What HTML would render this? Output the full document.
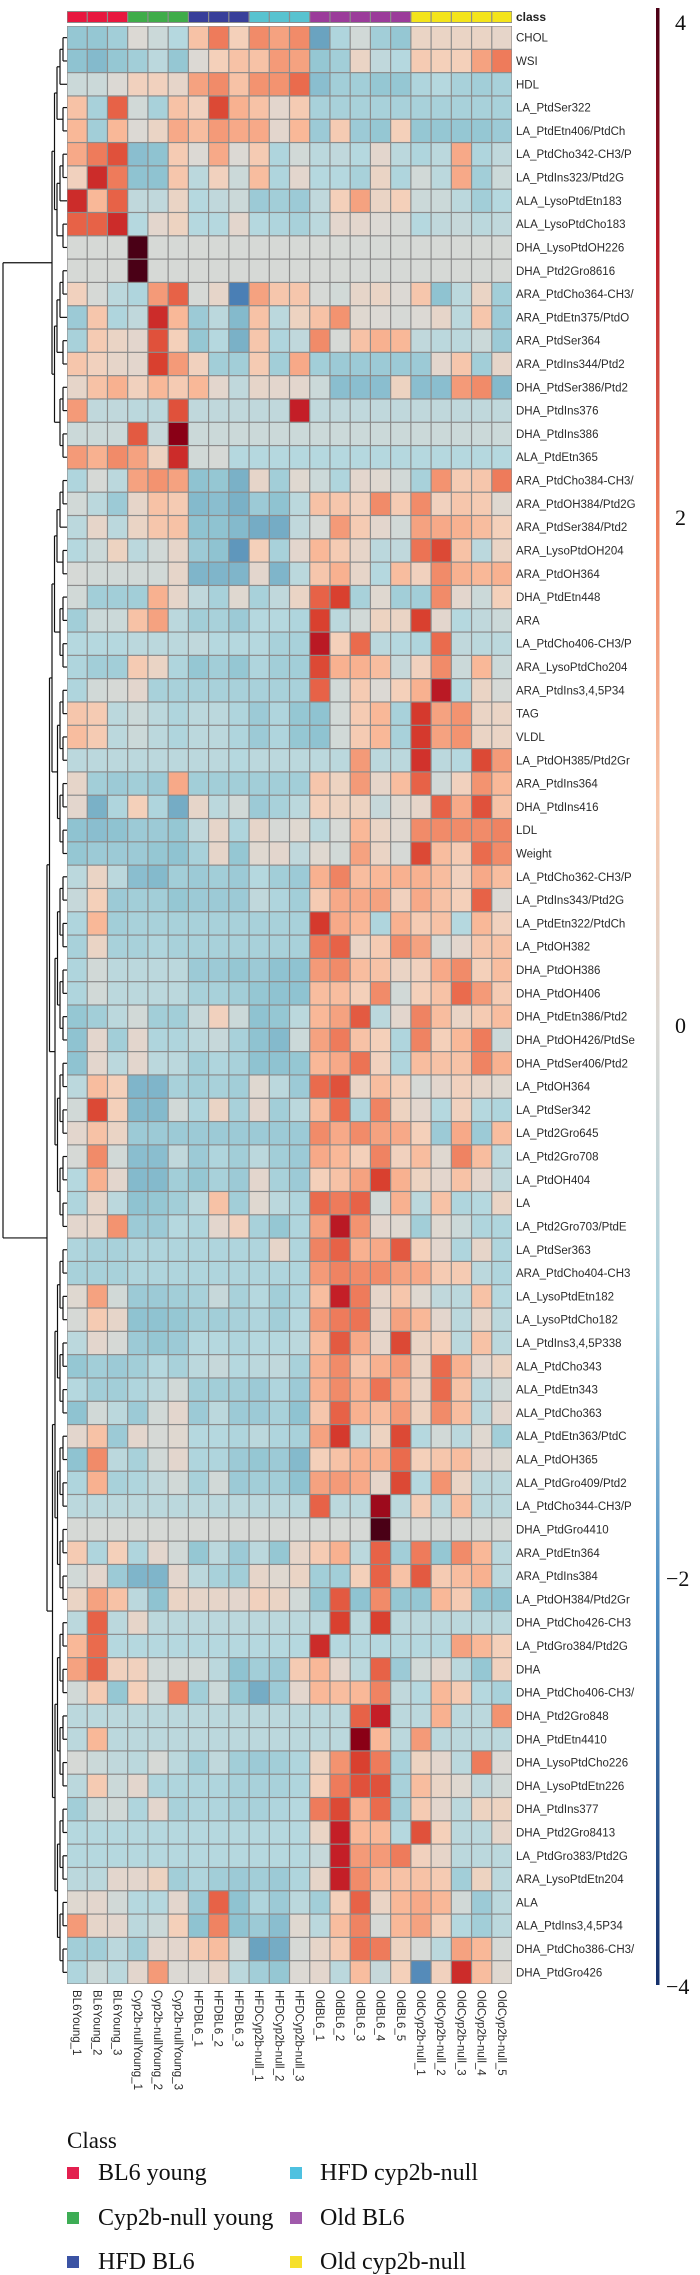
<!DOCTYPE html>
<html><head><meta charset="utf-8"><style>
html,body{margin:0;padding:0;background:#fff;}
svg{display:block;}
</style></head><body>
<svg id="chart" width="700" height="2275" viewBox="0 0 700 2275" xmlns="http://www.w3.org/2000/svg">
<defs>
<linearGradient id="cbar" x1="0" y1="0" x2="0" y2="1">
<stop offset="0" stop-color="#4a0016"/>
<stop offset="0.12" stop-color="#b81c28"/>
<stop offset="0.26" stop-color="#ef7f5c"/>
<stop offset="0.40" stop-color="#f8c6aa"/>
<stop offset="0.515" stop-color="#dcd9d4"/>
<stop offset="0.66" stop-color="#a9d1de"/>
<stop offset="0.80" stop-color="#4f8fc4"/>
<stop offset="1" stop-color="#15306b"/>
</linearGradient>
</defs>
<g id="dendro"></g>
<g id="classbar"></g>
<g id="cells"></g>
<g id="rowlabels"></g>
<g id="collabels"></g>
<g>
<rect x="656" y="8" width="3.5" height="1977" fill="url(#cbar)"/>
<g font-family="Liberation Serif, serif" font-size="22" fill="#111">
<text x="675" y="30">4</text>
<text x="675" y="525">2</text>
<text x="675" y="1033">0</text>
<text x="666" y="1586">−2</text>
<text x="666" y="1994">−4</text>
</g>
</g>
<g font-family="Liberation Serif, serif" fill="#111">
<text x="67" y="2148" font-size="23">Class</text>
<g font-size="24">
<rect x="67" y="2167" width="12" height="12" fill="#e3204f"/>
<text x="98" y="2180">BL6 young</text>
<rect x="67" y="2212" width="12" height="12" fill="#3dad55"/>
<text x="98" y="2225">Cyp2b-null young</text>
<rect x="67" y="2256" width="12" height="12" fill="#3b53a4"/>
<text x="98" y="2269">HFD BL6</text>
<rect x="290" y="2167" width="12" height="12" fill="#4ec1e0"/>
<text x="320" y="2180">HFD cyp2b-null</text>
<rect x="290" y="2212" width="12" height="12" fill="#a05aab"/>
<text x="320" y="2225">Old BL6</text>
<rect x="290" y="2256" width="12" height="12" fill="#f6e02a"/>
<text x="320" y="2269">Old cyp2b-null</text>
</g>
</g>
</svg>
<script>
const colLabels = ["BL6Young_1","BL6Young_2","BL6Young_3","Cyp2b-nullYoung_1","Cyp2b-nullYoung_2","Cyp2b-nullYoung_3","HFDBL6_1","HFDBL6_2","HFDBL6_3","HFDCyp2b-null_1","HFDCyp2b-null_2","HFDCyp2b-null_3","OldBL6_1","OldBL6_2","OldBL6_3","OldBL6_4","OldBL6_5","OldCyp2b-null_1","OldCyp2b-null_2","OldCyp2b-null_3","OldCyp2b-null_4","OldCyp2b-null_5"];
const colClasses = ["bl6y","bl6y","bl6y","cypy","cypy","cypy","hfdb","hfdb","hfdb","hfdc","hfdc","hfdc","oldb","oldb","oldb","oldb","oldb","oldc","oldc","oldc","oldc","oldc"];
const classColors = {bl6y:"#e8173f",cypy:"#3fac49",hfdb:"#383f9a",hfdc:"#58c3d0",oldb:"#9b3c9a",oldc:"#f4e41b"};
const rowLabels = ["CHOL","WSI","HDL","LA_PtdSer322","LA_PtdEtn406/PtdCh","LA_PtdCho342-CH3/P","LA_PtdIns323/Ptd2G","ALA_LysoPtdEtn183","ALA_LysoPtdCho183","DHA_LysoPtdOH226","DHA_Ptd2Gro8616","ARA_PtdCho364-CH3/","ARA_PtdEtn375/PtdO","ARA_PtdSer364","ARA_PtdIns344/Ptd2","DHA_PtdSer386/Ptd2","DHA_PtdIns376","DHA_PtdIns386","ALA_PtdEtn365","ARA_PtdCho384-CH3/","ARA_PtdOH384/Ptd2G","ARA_PtdSer384/Ptd2","ARA_LysoPtdOH204","ARA_PtdOH364","DHA_PtdEtn448","ARA","LA_PtdCho406-CH3/P","ARA_LysoPtdCho204","ARA_PtdIns3,4,5P34","TAG","VLDL","LA_PtdOH385/Ptd2Gr","ARA_PtdIns364","DHA_PtdIns416","LDL","Weight","LA_PtdCho362-CH3/P","LA_PtdIns343/Ptd2G","LA_PtdEtn322/PtdCh","LA_PtdOH382","DHA_PtdOH386","DHA_PtdOH406","DHA_PtdEtn386/Ptd2","DHA_PtdOH426/PtdSe","DHA_PtdSer406/Ptd2","LA_PtdOH364","LA_PtdSer342","LA_Ptd2Gro645","LA_Ptd2Gro708","LA_PtdOH404","LA","LA_Ptd2Gro703/PtdE","LA_PtdSer363","ARA_PtdCho404-CH3","LA_LysoPtdEtn182","LA_LysoPtdCho182","LA_PtdIns3,4,5P338","ALA_PtdCho343","ALA_PtdEtn343","ALA_PtdCho363","ALA_PtdEtn363/PtdC","ALA_PtdOH365","ALA_PtdGro409/Ptd2","LA_PtdCho344-CH3/P","DHA_PtdGro4410","ARA_PtdEtn364","ARA_PtdIns384","LA_PtdOH384/Ptd2Gr","DHA_PtdCho426-CH3","LA_PtdGro384/Ptd2G","DHA","DHA_PtdCho406-CH3/","DHA_Ptd2Gro848","DHA_PtdEtn4410","DHA_LysoPtdCho226","DHA_LysoPtdEtn226","DHA_PtdIns377","DHA_Ptd2Gro8413","LA_PtdGro383/Ptd2G","ARA_LysoPtdEtn204","ALA","ALA_PtdIns3,4,5P34","DHA_PtdCho386-CH3/","DHA_PtdGro426"];
const values = [
[-1.2,-1.2,-1,0,-0.3,-0.7,1,2,0.7,1.8,1.5,1.8,-2,-0.8,-0.2,-1,-1.2,0.4,0.4,0.4,0.4,0.3],
[-1.3,-1.5,-1.2,-1,-0.6,-1.2,0,0.7,1,1,1.6,1.5,-1.2,-1,0.4,-0.5,-0.7,0.8,0.7,0.7,1.5,2],
[-0.3,-0.3,0,0.6,0.6,0.3,1.5,1.8,1,1.7,1.7,2.2,-1.4,-1,-1,-1.2,-1.2,-0.8,-0.7,-0.9,-1,-0.9],
[1,-0.9,2.3,-0.2,-0.9,1,0.6,2.6,1.3,1,0.2,0.8,-0.9,-0.9,-0.9,-0.9,-0.9,-0.9,-0.9,-0.9,-0.9,-0.9],
[1.2,-1,1.2,0,0.4,1.4,1.1,1.6,1.4,1.4,0.2,1.2,-1.1,0.8,-1.1,-1.2,0.7,-1.2,-1.2,-1.2,-1.2,-1.1],
[1.4,2,2.5,-1.4,-1.3,0.8,0,1.4,0,0.8,-0.8,-0.2,-0.6,-0.5,-0.7,0.2,-0.6,-0.8,-0.6,1.4,-0.8,-0.5],
[0.6,3,2,-1.3,-1.3,0.9,-0.6,0.6,-0.3,1.1,-0.8,0.2,-0.7,-0.7,-0.9,0.4,-0.8,-0.2,-0.6,1.4,-1,-0.3],
[3,1.2,2.3,-0.5,-0.5,0.4,-0.7,-0.5,-0.3,-1.1,-1,-1.1,-0.5,0.7,1.5,0.4,0.7,-0.3,-0.3,-0.6,-1,-0.7],
[2.3,2.3,3,-0.7,0.2,0.5,-0.7,-0.7,0.2,-0.7,-0.8,-0.9,-0.6,0.2,0.2,0,-0.1,-0.7,-0.5,-0.4,-0.6,-0.5],
[-0.1,-0.1,-0.1,4.5,-0.1,-0.1,-0.1,-0.1,-0.1,-0.1,-0.1,-0.1,-0.1,-0.1,-0.1,-0.1,-0.1,-0.1,-0.1,-0.1,-0.1,-0.1],
[-0.1,-0.1,-0.1,4.5,-0.1,-0.1,-0.1,-0.1,-0.1,-0.1,-0.1,-0.1,-0.1,-0.1,-0.1,-0.1,-0.1,-0.1,-0.1,-0.1,-0.1,-0.1],
[0.6,-0.1,-0.6,-0.8,1.6,2.3,-0.1,0.3,-2.6,1.5,0.9,0.9,-0.1,-0.2,0.3,0.4,0,0.9,-1.3,-0.6,0.4,-1],
[-1.1,0.9,-0.8,-0.5,3,1.2,-1.1,-0.6,-1.5,1,-0.6,0.5,1,1.7,0.1,0,-0.1,0,0.3,-0.6,0.9,-1.1],
[-0.9,0.8,0.4,0.2,2.5,0.7,-1.2,-0.7,-1.7,0.9,-0.8,-0.5,1.8,-0.1,1,1.3,1.2,-0.5,-0.6,-0.6,-0.3,-1.1],
[0.9,0.6,0.3,0.2,2.7,1.6,0.6,-1,-1,0.8,-1,1.4,-1,-1.1,-1.1,-1.1,-1.1,-1.1,0.2,0.9,-1,0.3],
[0.3,1,1.3,0.6,1.2,0.8,1.2,0.2,-0.5,0.3,0.2,0.2,-0.3,-1.4,-1.4,-1.4,0.5,-1.4,-1.4,1.6,1.8,-1.5],
[1.6,-0.5,-0.5,-0.6,-0.6,2.5,-0.5,-0.5,-0.5,-0.5,-0.5,3.2,-0.5,-0.5,-0.5,-0.5,-0.5,-0.5,-0.5,-0.5,-0.5,-0.5],
[-0.3,-0.3,-0.3,2.4,-0.4,3.8,-0.3,-0.3,-0.3,-0.3,-0.3,-0.3,-0.3,-0.3,-0.3,-0.3,-0.3,-0.3,-0.3,-0.3,-0.3,-0.3],
[1.6,1.3,1.8,1.5,0.5,3,-0.2,-0.1,-0.7,-0.7,-0.7,-0.7,-0.7,-0.7,-0.7,-0.7,-0.7,-0.7,-0.7,-0.7,-0.7,-0.7],
[-0.8,-0.1,-0.6,1.5,1.7,1.5,-1.3,-1.2,-1.7,0.3,-1,0.1,-0.3,-0.8,0.2,0.1,-0.2,-0.9,1.7,0.8,0.9,2],
[-0.2,-0.6,-1.1,0.3,1,0.8,-1.5,-1.4,-1.7,-1.1,-1.3,-0.6,1,0.9,0.6,1.8,0.8,1.8,0.6,0.9,0.8,0.1],
[-0.6,0.3,-0.6,0.4,0.9,1,-1.3,-1.3,-1.5,-1.8,-1.8,-0.5,-0.1,1.6,0.8,0.2,-0.2,1.5,1.4,1.3,1.1,0.7],
[-0.7,-0.3,0.5,-0.6,-0.2,0.3,-1.1,-1.3,-2.2,0.7,-0.9,0.2,1.2,0.8,0.3,-0.6,-0.5,2.1,2.6,1,-0.6,0.4],
[-0.1,-0.2,-0.2,-0.2,-0.2,0.3,-1.6,-1.6,-1.6,0.2,-1.6,-0.6,0.9,1.3,0.3,-0.7,1.1,0.6,1.8,1.3,1.2,1.3],
[-0.2,-1,-1,-1,1.3,0.3,-0.5,-0.9,0.1,-0.9,-0.5,0.4,2.3,2.7,-0.9,0.1,-1,-1,1.8,0.2,-0.3,0.7],
[-1,-0.3,-0.3,1,1.5,-0.6,-1,-0.9,-1.1,-0.7,-0.7,-0.8,2.7,-0.6,-0.2,0.5,0.4,2.7,0.2,-0.7,-0.5,-0.3],
[-0.7,-0.7,-0.7,-0.6,-0.6,-0.6,-0.5,-0.7,-0.7,-0.7,-0.9,-0.9,3.3,0.7,2.2,-0.6,-0.7,-0.8,2.2,-0.5,-0.6,-0.6],
[-0.8,-1,-1,0.8,0.4,-0.8,-1.2,-1,-1.2,-0.8,-1,-1,2.6,1.3,1.3,1.1,-0.4,0.6,1.8,-0.3,1.2,-0.3],
[-0.8,-0.2,-0.1,0.2,-0.9,-0.9,-0.9,-0.9,-0.9,-0.9,-0.9,-0.9,2.3,-0.2,0.8,0,0.7,1.3,3.3,-0.7,0.4,-0.1],
[0.9,0.8,-0.6,-0.3,-0.6,-0.8,-0.6,-0.6,-0.8,-1.1,-0.8,-1.2,-1.3,-0.2,0.8,1.2,-0.9,2.8,1.5,1.7,0.4,0.4],
[1.1,0.8,-0.6,-0.3,-0.6,-0.8,-0.6,-0.6,-0.8,-1.1,-0.8,-1.2,-1.3,-0.2,0.8,1.2,-0.9,2.8,1.5,1.7,0.4,0.4],
[-0.6,-0.6,-0.6,-0.6,-0.6,-0.6,-0.6,-0.6,-0.7,-0.6,-0.6,-0.6,-0.6,-0.6,1.6,-0.6,-0.6,2.9,-0.6,-0.7,2.6,1.6],
[0.3,-1,-1.1,-1,-1.1,1.4,-1,-1,-1,-1,-1,-1,0.9,0.5,1.6,0.3,1.1,2.3,-0.2,0.6,1.7,1.2],
[0.2,-1.7,-0.8,0.7,-0.8,-1.8,0.3,-0.6,-0.2,-1.1,-0.9,-0.6,0.7,0.5,0.5,-0.4,0.1,0.3,2.3,1.4,2.5,1],
[-1.3,-1.4,-1.3,-1.1,-1.1,-1.2,-0.5,0.3,-0.8,0.3,-0.1,0.1,-0.6,-0.1,1.2,0.4,0.1,1.8,1.8,1.8,1.8,1.9],
[-1.2,-1.1,-1.1,-1.1,-1.2,-1.3,-0.9,0.3,-1.2,0.1,0.2,-0.5,0.1,-0.2,1.5,0.4,-0.1,2.6,1.1,0.8,2.2,1.8],
[-0.6,0.4,-0.6,-1.4,-1.5,-1,-1.1,-1,-1.1,-0.7,-1,-1.1,1.3,1.9,1.1,1.2,1.3,1.3,1.1,0.6,1.4,1.1],
[-0.4,0.7,-1.1,-1,-1,-1.2,-1.1,-1.1,-1.1,-0.5,-0.8,-1,0.8,1.4,1.4,1.5,0.6,1.4,1,0.7,2.3,0],
[-0.8,1.2,-1,-0.9,-0.9,-0.9,-0.9,-0.9,-0.9,-0.9,-0.9,-0.9,2.8,1.4,1.2,-0.8,1.3,0.8,1,-0.7,1.2,0.6],
[-0.9,0.4,-0.9,-0.9,-0.8,-0.9,-0.9,-0.9,-0.9,-0.9,-0.9,-0.9,2,2.3,0.4,0.8,1.8,1.5,-0.1,0.2,0.9,1],
[-0.8,-0.2,-0.6,-0.6,-0.6,-0.6,-1.1,-1.1,-1.2,-1.1,-1.3,-1.3,1.6,1.8,1.1,1,0.4,0.6,1.4,1.8,0.7,1.1],
[-0.8,-0.2,-0.6,-0.6,-0.6,-0.6,-0.9,-0.9,-1,-1.2,-1.3,-1.3,1.1,1.1,0.7,1.8,-0.2,0.7,1,2.2,1.6,0.8],
[-1.2,-1,-0.6,-0.2,-1,-1,-0.4,0.6,-0.3,-1.3,-1.2,-0.6,1.2,1.5,2.4,-0.6,0.2,1.9,1.1,0.4,0.8,1.1],
[-1.3,0.2,-1,0.2,-0.8,-0.8,-0.6,-0.4,-0.9,-1.3,-1.5,-0.3,1.5,2,1,0.7,-0.8,1.9,0.7,1.2,2,-0.3],
[-1.3,0.2,-0.6,0.2,-0.6,-0.6,-1,-0.8,-0.9,-1.3,-1.3,-1.2,1.2,1.4,2.1,0.6,-0.8,1.1,1,1,1.9,1.3],
[-0.6,1.1,0.7,-1.6,-1.6,-0.9,-1,-0.9,-1,0.1,-0.6,-1.1,2.2,2.5,0.4,1.1,0.7,-0.1,0.2,0.6,0.3,0.1],
[-0.2,2.6,0.7,-1.5,-1.5,-0.2,-0.8,0.4,-0.9,0.2,-1,-0.6,1.1,2.2,-0.8,1.9,0.5,0.2,-0.7,0.6,-0.7,-0.8],
[0.2,1,0.4,-1.1,-1.1,-1.1,-1.1,-1.1,-1.1,-1.1,-1.1,-1.1,1.8,1.4,1.8,1.5,1.4,0.7,-1.1,1.4,-1.1,1.1],
[-0.1,1.8,-0.2,-1.4,-1.4,-0.5,-1.1,-0.8,-1,-0.6,-1,-1.1,1.4,1.2,0.7,1.9,0.6,1.1,0.1,1.9,1.1,-0.6],
[-0.7,1.3,0.2,-1.5,-1.5,-1,-1.2,-0.9,-1.1,0.2,-0.9,-1.1,0.7,1,1.5,2.7,1.3,0.5,0.2,1,0.2,-0.5],
[-0.8,0.3,-0.6,-1.3,-1.2,-1,-0.6,1,-1,0.1,-0.6,-0.8,2.2,2,2.3,-0.2,1.3,-0.6,1,-0.8,-0.7,0.4],
[0.2,0.3,1.7,-1.1,-1.1,-0.7,-0.8,0.2,0.6,-0.9,-1.2,-0.8,1.5,3.3,1.7,0.2,0.1,-1,0.1,-0.3,-0.8,-0.8],
[-0.8,-0.9,-0.9,-0.8,-0.8,-0.8,-0.8,-0.8,-0.8,-0.8,0.3,-0.8,1.9,2.3,1.3,1.4,2.4,0.7,0.2,-0.8,0.3,-0.8],
[-0.9,-0.9,-0.9,-0.8,-0.8,-0.8,-0.8,-0.8,-0.8,-0.8,-0.8,-0.8,1.6,1.9,1.8,1.8,1.5,1.4,0.8,0.8,-0.6,-0.8],
[0.1,1.5,-0.2,-1.1,-1.1,-1,-0.9,-0.4,-0.9,-0.7,-1,-0.8,1.1,3.2,2,0.3,0.9,0.1,-0.5,-0.6,1,-0.7],
[-0.1,0.8,0.3,-1.3,-1.3,-1.2,-1,-1,-0.9,-0.8,-1,-0.7,1.6,2,2.1,0.3,1.5,1.2,0.2,-0.6,0.3,-0.6],
[-0.6,0.2,-0.1,-1.1,-1.2,-1.1,-0.7,-0.7,-0.8,-0.7,-0.7,-0.6,1.1,2.4,1.4,0.3,2.6,0.4,0.7,-0.6,1,-0.6],
[-1.2,-1,-1.1,-1,-0.7,-0.9,-0.6,-0.4,-0.7,-0.6,-0.5,-0.9,1.3,1.8,0.9,1.3,1.6,0.4,2.2,1.3,0.2,0.5],
[-0.7,-1,-1,-0.8,-0.6,-0.2,-1,-1,-1,-1.1,-0.8,-1.1,1.3,1.8,1.3,2.1,1.3,0.4,2.2,1,-0.6,-0.2],
[-1.3,-0.2,-0.6,-1.1,-0.2,0.2,-1.1,-0.6,-1.1,-1.1,-0.9,-1.3,0.9,2.3,1.3,1.1,1.6,0.5,1.8,1.1,-0.6,0.2],
[0.2,1,-1.1,0.2,-0.1,0.1,-0.7,-0.7,-0.8,-0.6,-0.8,-0.9,1.5,2.8,-0.6,0.5,2.6,-0.7,-0.2,-0.6,0.1,-1],
[-1.3,1.8,-0.6,-0.9,-0.2,0.2,-0.8,-0.8,-1.1,-1.2,-1.1,-1.5,0.7,1,1.3,1.3,2.2,0.7,0.9,1.1,0.2,0.1],
[-0.8,1.3,-0.9,-0.8,-0.5,-0.2,-0.9,-0.2,-1.1,-1,-1,-1.3,1.5,1.6,1.4,0.3,2.6,-0.7,1.7,0.4,-0.6,-0.6],
[-0.6,-0.6,-0.6,-0.6,-0.6,-0.6,-0.6,-0.6,-0.6,-0.6,-0.6,-0.6,2.3,-0.6,-0.6,3.6,-0.6,0.8,-0.6,1.1,-0.6,-0.6],
[-0.1,-0.1,-0.1,-0.1,-0.1,-0.1,-0.1,-0.1,-0.1,-0.1,-0.1,-0.1,-0.1,-0.1,-0.1,4.5,-0.1,-0.1,-0.1,-0.1,-0.1,-0.1],
[0.8,-0.8,0.7,-0.8,0.2,-0.2,-1.2,-0.6,-1.1,-0.6,-1.2,0.3,0.8,1.3,-0.6,2.3,-1,2,-1.2,1.8,1.2,-0.6],
[-0.2,0.2,-1.1,-1.6,-1.6,0.2,-0.6,-0.9,-1,0.3,0.1,0.4,-1,-1,0.7,2.3,1,2.4,0.8,1.1,1.3,-0.6],
[0.4,1.5,1,-0.6,-1.3,0.4,0.3,0.3,0.2,0.6,0.4,-0.2,-1.2,2.4,-1.3,1.8,-1.2,-1.2,1.2,0.8,-1.2,-1.3],
[-0.6,2.3,-0.6,0.3,-0.6,-0.6,-0.6,-0.6,-0.6,-0.6,-0.6,-0.6,-0.6,2.7,-0.6,2.7,-0.6,-0.6,-0.6,-0.6,-0.6,-0.6],
[1.2,2.2,-0.7,-0.7,-0.7,-0.7,-0.7,-0.7,-0.7,-0.7,-0.7,-0.7,3,-0.7,-0.7,-0.7,-0.7,-0.7,-0.7,1.5,1.2,0.7],
[1.5,2.3,0.6,0.6,-0.2,-0.2,-0.2,-0.6,-1.3,-1,-1.1,0.8,1.2,0.2,-0.6,2.3,-1.1,-0.2,0.2,-0.6,-1.2,0.6],
[-0.2,0.8,-1.2,0.7,-0.2,1.9,-1,-0.3,-1.2,-1.8,-1.1,0.2,1.2,1.1,1.2,1.9,-0.5,-0.7,1.2,0.8,-0.7,-0.9],
[-0.6,-0.6,-0.6,-0.6,-0.6,-0.6,-0.6,-0.6,-0.6,-0.6,-0.6,-0.6,-0.6,-0.6,2.3,3.2,-0.6,-0.6,1.3,-0.6,-0.6,1.7],
[-0.6,1.2,-0.6,-0.6,-0.6,-0.6,-0.6,-0.6,-0.6,-0.6,-0.6,-0.6,-0.6,-0.6,3.8,1.2,-0.6,1.6,-0.6,-0.6,-0.6,-0.6],
[-0.1,-0.3,-0.5,-0.6,-0.1,-0.6,-1,-0.5,-1,-1.1,-1,-0.8,0.5,1.7,2.7,2,-0.9,0.5,0.2,-0.6,2,0],
[-0.6,0.8,-0.3,0.2,-0.8,-0.8,-0.8,-0.8,-0.9,-0.9,-0.9,-0.8,0.7,2,2.5,2.5,-0.9,1.1,0.4,0.1,-0.5,-0.2],
[-1,-0.3,-0.2,-0.8,0.2,-0.9,-0.8,-0.8,-0.9,-0.9,-0.8,-0.7,2,2.6,1.3,2.2,-1,0.8,0.2,-0.6,0.5,0.5],
[-0.7,-0.7,-0.7,-0.7,-0.7,-0.7,-0.7,-0.7,-0.7,-0.7,-0.7,-0.7,0.4,3.2,1.2,1.2,-0.7,2.5,0.7,-0.6,-0.6,0.3],
[-0.7,-0.7,-0.7,-0.7,-0.7,-0.7,-0.7,-0.7,-0.7,-0.7,-0.7,-0.7,-0.4,3.2,1.6,1.6,2,0.6,0.3,-0.6,-0.6,-0.6],
[-0.6,-0.6,0.2,0.2,0.5,-1,-0.8,-1,-1.1,-1,-1.1,-0.8,0.3,3.2,1.8,1.1,1,1,0.8,-1,0.5,-0.6],
[0.1,0.2,-0.2,-0.7,-0.7,0.2,-1.1,2.3,-1.3,-0.8,-1.1,-0.6,-1,0.7,2.3,0.4,1.2,1.4,1.2,-0.2,-1.1,-0.6],
[1.6,0.3,0.2,-0.6,-0.3,0.7,-1.3,1.9,-1.3,-1.1,-1.4,0.1,-0.6,1.1,1.9,-0.1,1.2,1.5,0.7,-0.7,-1,-0.6],
[-1,-1,-0.6,-1,0.2,0.2,0.8,1.1,-0.2,-2,-1.8,-0.1,0.3,0.8,2.1,2,0.5,-0.1,-0.6,1.5,1.2,-0.1],
[-0.8,-0.3,-0.6,0.2,1.6,0,0,0.3,-0.6,-1,-1.2,0,0.2,-0.6,1.1,-0.4,0.7,-2.4,0.6,3,1.1,0.1]
];
const colorStops = [[-4,[21,48,107]],[-2.6,[74,127,181]],[-2,[106,163,192]],[-1.3,[143,195,209]],[-0.7,[181,216,223]],[0,[220,217,212]],[0.7,[244,208,186]],[1.2,[249,184,152]],[1.7,[243,147,112]],[2.2,[234,107,77]],[2.7,[217,64,47]],[3.2,[196,30,39]],[3.8,[138,0,22]],[4.5,[74,0,22]]];
function colorScale(v){
  if(v<=colorStops[0][0]) return 'rgb('+colorStops[0][1].join(',')+')';
  for(let i=1;i<colorStops.length;i++){
    const a=colorStops[i-1],b=colorStops[i];
    if(v<=b[0]){const t=(v-a[0])/(b[0]-a[0]);
      const c=a[1].map((x,k)=>Math.round(x+(b[1][k]-x)*t));
      return 'rgb('+c.join(',')+')';}
  }
  return 'rgb('+colorStops[colorStops.length-1][1].join(',')+')';
}
const NS="http://www.w3.org/2000/svg";
const X0=67, X1=512, Y0=26, Y1=1984;
const nC=colLabels.length, nR=rowLabels.length;
const cw=(X1-X0)/nC, rh=(Y1-Y0)/nR;
function xPos(j){return X0+j*cw;}
function yPos(i){return Y0+i*rh;}
function mk(tag,attrs,parent){const e=document.createElementNS(NS,tag);for(const k in attrs)e.setAttribute(k,attrs[k]);parent.appendChild(e);return e;}
const cells=document.getElementById('cells');
mk('rect',{x:X0,y:Y0,width:X1-X0,height:Y1-Y0,fill:'#8c8c8c'},cells);
for(let i=0;i<nR;i++){
  for(let j=0;j<nC;j++){
    const v=(values[i]&&values[i][j]!==undefined)?values[i][j]:0;
    const r=mk('rect',{x:(xPos(j)+0.6).toFixed(2),y:(yPos(i)+0.6).toFixed(2),width:(cw-1.2).toFixed(2),height:(rh-1.2).toFixed(2),fill:colorScale(v)},cells);
    
    
  }
}
const cb=document.getElementById('classbar');
mk('rect',{x:X0,y:11,width:X1-X0,height:12,fill:'#8c8c8c'},cb);
for(let j=0;j<nC;j++){
  const r=mk('rect',{x:(xPos(j)+0.6).toFixed(2),y:12,width:(cw-1.2).toFixed(2),height:10,fill:classColors[colClasses[j]]},cb);
  
  
}
const ct=mk('text',{x:516,y:21,'font-family':'Liberation Sans, sans-serif','font-size':'12','font-weight':'bold',fill:'#222'},cb);
ct.textContent='class';


const rl=document.getElementById('rowlabels');
for(let i=0;i<nR;i++){
  const t=mk('text',{x:516,y:(yPos(i)+rh/2+4).toFixed(1),'font-family':'Liberation Sans, sans-serif','font-size':'11.5',fill:'#2a2a2a'},rl);
  t.textContent=rowLabels[i];
  
  
}
const cl=document.getElementById('collabels');
for(let j=0;j<nC;j++){
  const cx=xPos(j)+cw/2-4;
  const t=mk('text',{x:0,y:0,transform:'translate('+cx.toFixed(1)+',1990) rotate(90)','font-family':'Liberation Sans, sans-serif','font-size':'11.5',fill:'#2a2a2a'},cl);
  t.textContent=colLabels[j];
  
  
}
const dg=document.getElementById('dendro');
function line(x1,y1,x2,y2){const l=mk('line',{x1:x1,y1:y1,x2:x2,y2:y2,stroke:'#111','stroke-width':'1.2'},dg);
  
  }
function dend(a,b,isRoot){
  if(a===b) return {x:X0, y:yPos(a)+rh/2};
  const m=isRoot?18:Math.floor((a+b)/2);
  const L=dend(a,m,false), R=dend(m+1,b,false);
  const n=b-a+1;
  let x=Math.min(L.x,R.x)-(n<=2?4:n<=6?3:2.5);
  if(isRoot) x=3;
  line(x,L.y,L.x,L.y); line(x,R.y,R.x,R.y); line(x,L.y,x,R.y);
  return {x:x,y:(L.y+R.y)/2};
}
dend(0,nR-1,true);
</script>
</body></html>
